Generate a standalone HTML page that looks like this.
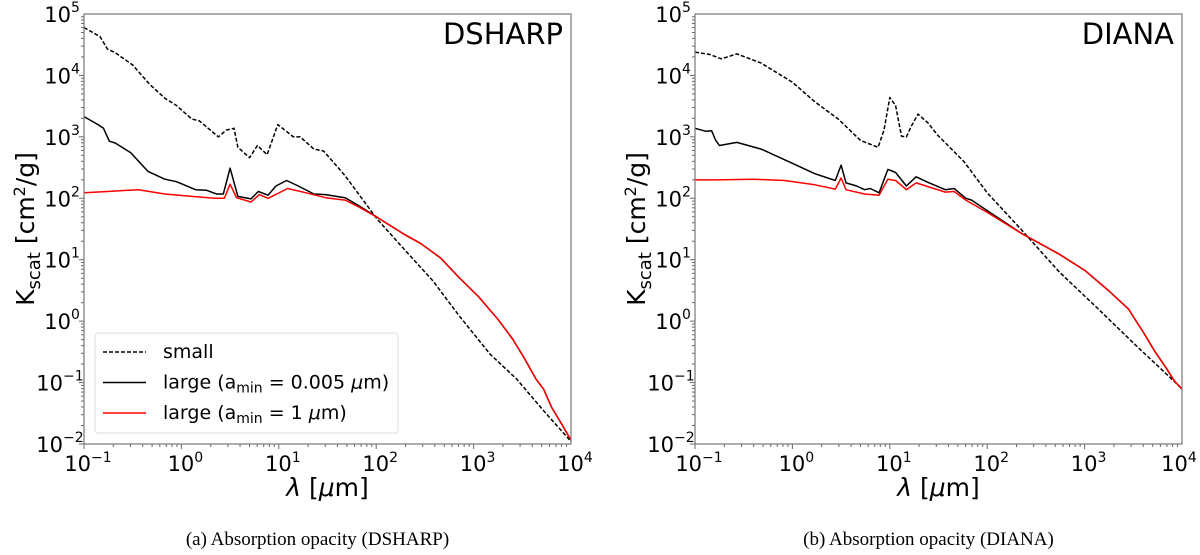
<!DOCTYPE html>
<html><head><meta charset="utf-8"><style>
body{margin:0;background:#fff;}
svg text{font-family:"DejaVu Sans","Liberation Sans",sans-serif;}
svg text.cap{font-family:"Liberation Serif",serif;}
</style></head><body>
<svg id="fig" width="1200" height="550" xmlns="http://www.w3.org/2000/svg"></svg>
<script>
// ---- data (log10 lambda [um], log10 K [cm2/g]) ----
const dsSmallX=[-1,-0.835,-0.76,-0.68,-0.50,-0.33,-0.17,-0.05,0.107,0.185,0.38,0.46,0.54,0.58,0.70,0.78,0.88,0.99,1.15,1.22,1.36,1.46,1.68,2.01,2.27,2.58,2.85,3.17,3.44,3.72,4.0];
const dsSmallY=[4.78,4.63,4.43,4.37,4.17,3.86,3.63,3.51,3.29,3.26,3.0,3.11,3.14,2.83,2.66,2.86,2.71,3.2,3.0,3.0,2.8,2.77,2.37,1.66,1.2,0.66,0.09,-0.54,-0.94,-1.46,-1.96];
const dsLargeX=[-1,-0.855,-0.80,-0.74,-0.68,-0.52,-0.345,-0.17,-0.05,0.146,0.26,0.36,0.43,0.5,0.58,0.715,0.79,0.89,0.97,1.08,1.2,1.36,1.48,1.68,1.81,2.01,2.27,2.46,2.66,2.85,3.05,3.25,3.40,3.52,3.64,3.72,3.80,3.91,4.0];
const dsLargeY=[3.33,3.2,3.14,2.93,2.90,2.74,2.44,2.31,2.27,2.14,2.13,2.07,2.07,2.49,2.03,1.99,2.11,2.05,2.2,2.29,2.2,2.07,2.06,2.01,1.89,1.69,1.43,1.26,1.03,0.71,0.4,0.03,-0.29,-0.6,-0.94,-1.11,-1.4,-1.69,-1.94];
const dsRedX=[-1,-0.76,-0.44,-0.17,0.107,0.34,0.44,0.5,0.566,0.715,0.80,0.89,1.09,1.28,1.48,1.68,1.81,2.01,2.27,2.46,2.66,2.85,3.05,3.25,3.40,3.52,3.64,3.72,3.80,3.91,4.0];
const dsRedY=[2.09,2.11,2.14,2.07,2.03,2.0,2.0,2.23,2.01,1.94,2.06,2.0,2.16,2.09,2.01,1.97,1.87,1.69,1.43,1.26,1.03,0.71,0.4,0.03,-0.29,-0.6,-0.94,-1.11,-1.4,-1.69,-1.94];
const diSmallX=[-1,-0.847,-0.73,-0.57,-0.32,0.0,0.23,0.47,0.70,0.88,0.94,1.0,1.06,1.12,1.17,1.22,1.29,1.39,1.49,1.76,2.0,2.35,2.74,3.14,3.53,3.84,4.0];
const diSmallY=[4.38,4.34,4.27,4.35,4.2,3.89,3.57,3.29,2.94,2.83,3.11,3.64,3.51,3.01,3.0,3.17,3.37,3.23,3.03,2.6,2.09,1.49,0.8,0.2,-0.4,-0.86,-1.10];
const diLargeX=[-1,-0.886,-0.83,-0.79,-0.75,-0.57,-0.32,0.0,0.23,0.44,0.5,0.55,0.66,0.74,0.8,0.89,0.98,1.06,1.17,1.27,1.39,1.57,1.66,1.78,1.84,2.0,2.35,2.74,3.0,3.25,3.45,3.61,3.72,3.84,3.92,4.0];
const diLargeY=[3.14,3.09,3.10,2.95,2.86,2.91,2.8,2.57,2.4,2.29,2.54,2.25,2.2,2.14,2.16,2.09,2.47,2.42,2.2,2.35,2.26,2.14,2.16,2.0,1.97,1.8,1.43,1.09,0.83,0.49,0.2,-0.2,-0.49,-0.77,-0.97,-1.11];
const diRedX=[-1,-0.79,-0.4,-0.08,0.23,0.44,0.5,0.55,0.74,0.89,0.98,1.06,1.17,1.27,1.57,1.66,1.78,2.0,2.35,2.74,3.0,3.25,3.45,3.61,3.72,3.84,3.92,4.0];
const diRedY=[2.30,2.30,2.31,2.29,2.22,2.15,2.33,2.14,2.07,2.05,2.31,2.29,2.14,2.25,2.1,2.11,1.97,1.77,1.43,1.09,0.83,0.49,0.2,-0.2,-0.49,-0.77,-0.97,-1.11];
const xTickExp=[-1,0,1,2,3,4];
const yTickExp=[-2,-1,0,1,2,3,4,5];

const NS="http://www.w3.org/2000/svg";
const svg=document.getElementById('fig');
function mk(tag,attrs,parent){const e=document.createElementNS(NS,tag);for(const k in attrs)e.setAttribute(k,attrs[k]);(parent||svg).appendChild(e);return e;}

function panel(x0,x1,y0,y1,series,title,caption,legend,pfx){
  const sx=v=>x0+(v+1)/5*(x1-x0);
  const sy=v=>y1-(v+2)/7*(y1-y0);
  const g=mk('g',{});
  
  
  for(let d=-1;d<4;d++)for(let m=1;m<10;m++){const v=d+Math.log10(m);const x=sx(v);
    const t=mk('line',{x1:x,x2:x,y1:y1,y2:y1+(m==1?5:3),stroke:'#666','stroke-width':1},g);
    }
  for(let d=-2;d<5;d++)for(let m=1;m<10;m++){const v=d+Math.log10(m);const y=sy(v);
    const t=mk('line',{x1:x0,x2:x0-(m==1?5:3),y1:y,y2:y,stroke:'#666','stroke-width':1},g);
    }
  xTickExp.forEach(e=>{const cx=Math.min(sx(e)+4,1200-21);const t=mk('text',{x:cx,y:y1+27,'font-size':21,'text-anchor':'middle'},g);
    
    t.innerHTML='10<tspan dy="-9" font-size="14">'+String(e).replace('-','\u2212')+'</tspan>';});
  yTickExp.forEach(e=>{const t=mk('text',{x:x0-(e<0?21:13),y:sy(e)+8,'font-size':21,'text-anchor':'end'},g);
    
    t.textContent='10';
    const s=mk('text',{x:x0-(e<0?21:13),y:sy(e)-2,'font-size':14},g);
    
    s.textContent=String(e).replace('-','\u2212');});
  series.forEach(s=>{let d='';s.x.forEach((v,i)=>{d+=(i?'L':'M')+sx(v).toFixed(1)+','+sy(s.y[i]).toFixed(1);});
    const p=mk('path',{d:d,fill:'none',stroke:s.c,'stroke-width':1.5,'stroke-dasharray':s.dash||'none','stroke-linejoin':'round'},g);
    });
  const fr=mk('rect',{x:x0,y:y0,width:x1-x0,height:y1-y0,fill:'none',stroke:'#777','stroke-width':1.2},g);
  
  const tt=mk('text',{x:x1-8,y:y0+30,'font-size':29,'text-anchor':'end'},g);
  tt.textContent=title;
  const xl=mk('text',{x:(x0+x1)/2,y:y1+52,'font-size':25,'text-anchor':'middle'},g);
  
  xl.innerHTML='<tspan font-style="italic">\u03bb</tspan> [<tspan font-style="italic">\u03bc</tspan>m]';
  const yl=mk('text',{x:0,y:0,'font-size':25,'text-anchor':'middle',transform:'translate('+(x0-50)+','+((y0+y1)/2)+') rotate(-90)'},g);
  
  yl.innerHTML='K<tspan font-size="18" dy="6">scat</tspan><tspan dy="-6"> [cm</tspan><tspan font-size="16" dy="-9">2</tspan><tspan dy="9">/g]</tspan>';
  const cp=mk('text',{x:(x0+x1)/2-10,y:545,'font-size':19,'text-anchor':'middle','class':'cap'},g);
  cp.textContent=caption;
  if(legend){
    const lg=mk('g',{},g);
    const b=mk('rect',{x:95,y:333,width:303,height:100,rx:3,fill:'#fff','fill-opacity':0.8,stroke:'#ddd'},lg);
    
    const items=[['#000','4,2','small'],['#000','none','large (a<tspan font-size="14" dy="4">min</tspan><tspan dy="-4"> = 0.005 </tspan><tspan font-style="italic">\u03bc</tspan>m)'],['#f00','none','large (a<tspan font-size="14" dy="4">min</tspan><tspan dy="-4"> = 1 </tspan><tspan font-style="italic">\u03bc</tspan>m)']];
    items.forEach((it,i)=>{const y=352+i*30.5;
      const l=mk('line',{x1:103,x2:146,y1:y,y2:y,stroke:it[0],'stroke-width':1.5,'stroke-dasharray':it[1]},lg);
      
      const t=mk('text',{x:163,y:y+6,'font-size':19},lg);
      t.innerHTML=it[2];});
  }
}
panel(84,571,14,444,[{x:dsSmallX,y:dsSmallY,c:'#000',dash:'4,2',n:'small'},{x:dsLargeX,y:dsLargeY,c:'#000',n:'large-0005'},{x:dsRedX,y:dsRedY,c:'#f00',n:'large-1'}],'DSHARP','(a) Absorption opacity (DSHARP)',true,'dsharp');
panel(695,1182,14,444,[{x:diSmallX,y:diSmallY,c:'#000',dash:'4,2',n:'small'},{x:diLargeX,y:diLargeY,c:'#000',n:'large-0005'},{x:diRedX,y:diRedY,c:'#f00',n:'large-1'}],'DIANA','(b) Absorption opacity (DIANA)',false,'diana');
</script>
</body></html>
